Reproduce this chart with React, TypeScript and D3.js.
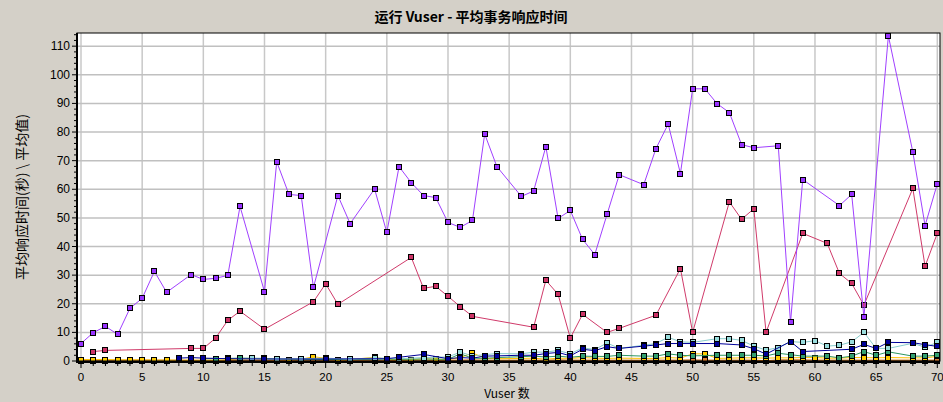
import React from "react";
import * as d3 from "d3";

const title = "运行 Vuser - 平均事务响应时间";
const yTitle = "平均响应时间(秒) \\ 平均值)";
const xTitle = "Vuser 数";

const xTicks = [0, 5, 10, 15, 20, 25, 30, 35, 40, 45, 50, 55, 60, 65, 70];
const yTicks = [0, 10, 20, 30, 40, 50, 60, 70, 80, 90, 100, 110];

const purpleX = [0, 1, 2, 3, 4, 5, 6, 7, 9, 10, 11, 12, 13, 15, 16, 17, 18, 19, 21, 22, 24, 25, 26, 27, 28, 29, 30, 31, 32, 33, 34, 36, 37, 38, 39, 40, 41, 42, 43, 44, 46, 47, 48, 49, 50, 51, 52, 53, 54, 55, 57, 58, 59, 62, 63, 64, 66, 68, 69, 70];
const purpleY = [6.1, 9.9, 12.1, 9.3, 18.4, 21.9, 31.3, 24, 30.2, 28.5, 28.9, 29.9, 54, 24.2, 69.6, 58.2, 57.8, 25.7, 57.8, 48, 60.1, 44.9, 67.9, 62.3, 57.8, 57.1, 48.4, 46.7, 49.1, 79.3, 67.9, 57.5, 59.4, 74.9, 49.8, 52.6, 42.5, 37.2, 51.2, 65.1, 61.6, 74.2, 82.8, 65.5, 95.1, 95.1, 89.9, 86.8, 75.6, 74.5, 75.2, 13.5, 63.4, 54.3, 58.2, 15.3, 113.6, 73, 47.3, 61.9];

const crimsonX = [1, 2, 9, 10, 11, 12, 13, 15, 19, 20, 21, 27, 28, 29, 30, 31, 32, 37, 38, 39, 40, 41, 43, 44, 47, 49, 50, 53, 54, 55, 56, 59, 61, 62, 63, 64, 68, 69, 70];
const crimsonY = [3.3, 3.7, 4.4, 4.4, 8, 14.2, 17.4, 11.1, 20.7, 27, 19.8, 36.2, 25.4, 26.1, 22.6, 19, 15.6, 11.8, 28.2, 23.3, 8, 16.3, 10, 11.4, 16, 32.3, 10, 55.6, 49.5, 53.2, 10, 44.6, 41.1, 30.6, 27.1, 19.5, 60.3, 33.1, 44.6];

const cyanX = [14, 16, 18, 20, 22, 24, 26, 28, 30, 31, 32, 34, 36, 37, 38, 39, 40, 41, 42, 43, 44, 46, 47, 48, 49, 50, 52, 53, 54, 55, 56, 57, 58, 59, 60, 61, 62, 63, 64, 65, 66, 68, 69, 70];
const cyanY = [0.9, 0.6, 0.8, 1.0, 0.6, 1.1, 0.8, 1.2, 1.4, 3.1, 1.8, 2.6, 2.5, 3.1, 3.1, 3.7, 2.5, 4.6, 4.0, 6.3, 4.4, 5.5, 6.1, 8.3, 6.7, 6.5, 7.8, 7.8, 7.2, 5.2, 3.8, 4.7, 6.8, 6.5, 7.1, 5.2, 5.5, 6.7, 10, 4.4, 4.4, 6.2, 4.8, 6.5];

const navyX = [8, 9, 10, 12, 15, 20, 25, 26, 28, 30, 31, 32, 33, 34, 36, 37, 38, 39, 40, 41, 42, 43, 44, 46, 47, 48, 49, 50, 52, 54, 55, 56, 58, 59, 63, 64, 65, 66, 68, 69, 70];
const navyY = [1.0, 1.2, 1.0, 0.8, 0.7, 0.7, 0.8, 1.3, 2.3, 0.8, 1.2, 1.0, 1.7, 1.8, 2.0, 2.0, 2.6, 3.0, 1.8, 4.1, 3.6, 5.0, 4.4, 5.2, 5.6, 6.1, 6.1, 6.1, 6.1, 5.6, 4.3, 2.4, 6.8, 3.3, 4.1, 5.8, 4.4, 6.5, 6.4, 5.7, 5.1];

const greenX = [10, 11, 12, 13, 15, 16, 18, 20, 24, 25, 26, 28, 30, 31, 32, 33, 34, 36, 37, 38, 39, 40, 41, 42, 43, 44, 46, 47, 48, 49, 50, 52, 53, 54, 55, 56, 57, 58, 59, 61, 62, 63, 64, 65, 66, 68, 69, 70];
const greenY = [0.8, 0.8, 0.9, 1.0, 0.9, 0.7, 0.6, 0.5, 0.6, 0.7, 0.6, 0.7, 0.6, 2.5, 1.0, 0.9, 1.2, 1.5, 1.7, 1.4, 1.7, 1.3, 1.7, 1.6, 1.6, 2.0, 1.7, 1.7, 2.5, 2.0, 1.8, 2.0, 2.0, 2.0, 2.0, 1.8, 2.7, 2.2, 1.7, 1.7, 1.1, 1.7, 3.3, 2.0, 3.2, 1.7, 1.7, 2.0];

const yellowX = [0, 1, 2, 3, 4, 5, 6, 7, 9, 10, 11, 12, 13, 15, 17, 18, 19, 21, 22, 24, 25, 26, 27, 28, 29, 30, 31, 32, 33, 34, 36, 37, 38, 39, 40, 41, 42, 43, 44, 46, 47, 48, 49, 50, 51, 52, 53, 54, 55, 56, 57, 58, 59, 60, 61, 62, 63, 64, 65, 66, 68, 69, 70];
const yellowY = [0.5, 0.5, 0.5, 0.4, 0.4, 0.4, 0.3, 0.3, 0.3, 0.3, 0.3, 0.4, 0.8, 0.7, 0.5, 0.6, 1.5, 0.4, 0.5, 1.3, 0.6, 0.5, 0.4, 0.8, 0.6, 0.5, 1.2, 2.8, 1.0, 0.8, 0.9, 1.0, 0.6, 1.0, 0.9, 1.2, 1.0, 0.9, 1.0, 0.9, 0.9, 1.2, 1.0, 2.5, 2.5, 0.9, 1.0, 1.1, 1.1, 1.0, 1.1, 1.1, 1.2, 1.2, 1.0, 1.0, 1.2, 1.2, 1.1, 1.2, 1.1, 1.1, 1.6];

const orangeX = [0, 1, 2, 3, 4, 5, 6, 7, 9, 10, 11, 12, 13, 15, 16, 17, 18, 19, 21, 22, 24, 25, 26, 27, 28, 29, 30, 31, 32, 33, 34, 36, 37, 38, 39, 40, 41, 42, 43, 44, 46, 47, 48, 49, 50, 51, 52, 53, 54, 55, 56, 57, 58, 59, 60, 61, 62, 63, 64, 65, 66, 68, 69, 70];
const orangeY = [0.3, 0.3, 0.3, 0.3, 0.3, 0.3, 0.3, 0.3, 0.2, 0.2, 0.2, 0.2, 0.3, 0.2, 0.2, 0.2, 0.3, 0.3, 0.2, 0.2, 0.3, 0.2, 0.2, 0.3, 0.3, 0.2, 0.3, 0.3, 0.4, 0.3, 0.3, 0.3, 0.3, 0.3, 0.4, 0.3, 0.3, 0.3, 0.3, 0.3, 0.3, 0.3, 0.3, 0.3, 0.4, 0.3, 0.3, 0.3, 0.3, 0.3, 0.1, 0.4, 0.4, 0.4, 0.3, 0.3, 0.3, 0.3, 0.3, 0.3, 0.3, 0.3, 0.3, 0.3];

const blackX = [0, 1, 2, 3, 4, 5, 6, 7, 9, 10, 11, 12, 13, 15, 16, 17, 18, 19, 21, 22, 24, 25, 26, 27, 28, 29, 30, 31, 32, 33, 34, 36, 37, 38, 39, 40, 41, 42, 43, 44, 46, 47, 48, 49, 50, 51, 52, 53, 54, 55, 56, 57, 58, 59, 61, 62, 63, 64, 65, 66, 68, 69, 70];
const blackY = blackX.map(() => 0);

type Series = { xs: number[]; ys: number[]; line: string; fill: string };

const seriesList: Series[] = [
  { xs: blackX, ys: blackY, line: "#000000", fill: "#202020" },
  { xs: orangeX, ys: orangeY, line: "#cc6600", fill: "#e08030" },
  { xs: yellowX, ys: yellowY, line: "#ffc000", fill: "#ffcc00" },
  { xs: greenX, ys: greenY, line: "#2e9660", fill: "#33a070" },
  { xs: cyanX, ys: cyanY, line: "#88cccc", fill: "#99dddd" },
  { xs: navyX, ys: navyY, line: "#000099", fill: "#000099" },
  { xs: crimsonX, ys: crimsonY, line: "#d03a6a", fill: "#cc3366" },
  { xs: purpleX, ys: purpleY, line: "#a040ff", fill: "#9933ff" },
];

const W = 943;
const H = 402;
const left = 77;
const right = 940;
const top = 33;
const bottom = 361;

export default function App() {
  const x = d3.scaleLinear().domain([-0.327, 70.22]).range([left, right]);
  const y = d3.scaleLinear().domain([0, 114.6]).range([bottom, top]);
  const line = d3
    .line<[number, number]>()
    .x((d) => x(d[0]))
    .y((d) => y(d[1]));

  const minorX = d3.range(0, 71, 1);
  const minorY = d3.range(0, 115, 2);
  const font = "'Liberation Sans', Arial, sans-serif";
  const cjk = "'Noto Sans CJK SC', 'Liberation Sans', sans-serif";

  return (
    <svg
      width={W}
      height={H}
      style={{ position: "absolute", left: 0, top: 0, display: "block", background: "#d4d0c8" }}
    >
      <rect x={0} y={0} width={W} height={H} fill="#d4d0c8" />
      <text x={471} y={22} textAnchor="middle" fontFamily={cjk} fontWeight="bold" fontSize={14} fill="#000">
        {title}
      </text>
      <rect x={left} y={top} width={right - left} height={bottom - top} fill="#ffffff" />
      {xTicks.map((t) => (
        <line key={"gx" + t} x1={x(t)} x2={x(t)} y1={top} y2={bottom} stroke="#c8c8c8" strokeWidth={1.5} />
      ))}
      {yTicks.map((t) => (
        <line key={"gy" + t} x1={left} x2={right} y1={y(t)} y2={y(t)} stroke="#c0c0c0" strokeWidth={1.5} />
      ))}
      <clipPath id="plotclip">
        <rect x={left} y={top - 3} width={right - left + 3} height={bottom - top + 6} />
      </clipPath>
      <g clipPath="url(#plotclip)">
        {seriesList.map((s, i) => {
          const pts: [number, number][] = s.xs.map((xv, j) => [xv, s.ys[j]]);
          return (
            <g key={"s" + i}>
              <path d={line(pts) || ""} fill="none" stroke={s.line} strokeWidth={1} />
              {pts.map((p, j) => (
                <rect
                  key={j}
                  x={Math.round(x(p[0])) - 2.5}
                  y={Math.round(y(p[1])) - 2.5}
                  width={5}
                  height={5}
                  fill={s.fill}
                  stroke="#000"
                  strokeWidth={1}
                />
              ))}
            </g>
          );
        })}
      </g>
      <rect x={left} y={top} width={right - left} height={bottom - top} fill="none" stroke="#000" strokeWidth={1} />
      <line x1={left} x2={left} y1={top} y2={bottom + 2} stroke="#000" strokeWidth={2} />
      <line x1={left - 1} x2={right} y1={bottom + 1} y2={bottom + 1} stroke="#000" strokeWidth={2} />
      {minorY.map((t) => (
        <line key={"my" + t} x1={left - (t % 10 === 0 ? 5 : 3)} x2={left} y1={y(t)} y2={y(t)} stroke="#000" strokeWidth={1} />
      ))}
      {minorX.map((t) => (
        <line key={"mx" + t} x1={x(t)} x2={x(t)} y1={bottom + 2} y2={bottom + (t % 5 === 0 ? 7 : 5)} stroke="#000" strokeWidth={1} />
      ))}
      {yTicks.map((t) => (
        <text key={"ly" + t} x={left - 7} y={y(t) + 4} textAnchor="end" fontFamily={font} fontSize={12} fill="#000">
          {t}
        </text>
      ))}
      {xTicks.map((t) => (
        <text key={"lx" + t} x={x(t)} y={381} textAnchor="middle" fontFamily={font} fontSize={11.5} fill="#000">
          {t}
        </text>
      ))}
      <text x={507} y={398} textAnchor="middle" fontFamily={cjk} fontSize={12} fill="#000">
        {xTitle}
      </text>
      <text
        transform={`translate(27, 197) rotate(-90)`}
        textAnchor="middle"
        fontFamily={cjk}
        fontSize={14}
        fill="#000"
      >
        {yTitle}
      </text>
    </svg>
  );
}
